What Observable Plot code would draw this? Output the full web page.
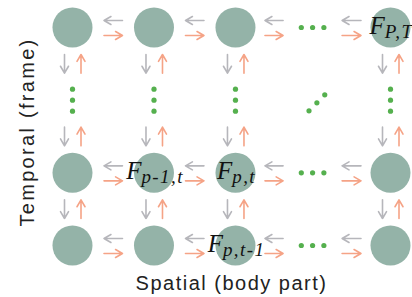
<!DOCTYPE html>
<html><head><meta charset="utf-8">
<script src="https://cdn.jsdelivr.net/npm/d3@7"></script>
<script src="https://cdn.jsdelivr.net/npm/@observablehq/plot@0.6"></script>
<style>html,body{margin:0;padding:0;background:#fff}svg{display:block}</style>
</head><body><div id="chart"></div>
<script>
// Grid layout: columns = body parts (spatial), rows = frames (temporal, top = T)
const columnNames = ["1", "2", "p", "…", "P"];
const columnPos = [0, 1.025, 2.05, 3.02, 4];
const rowNames = ["T", "…", "t", "t-1"];
const rowPos = [0, 1, 2, 3];
const nodeCols = [0, 1, 2, 4];
const nodeRows = [0, 2, 3];
const ellipsisCol = 3;
const ellipsisRow = 1;
const ellipsisSteps = [-1, 0, 1];
const labelCols = [4, 1, 2, 2];
const labelRows = [0, 2, 2, 3];
const labelMain = ["F", "F", "F", "F"];
const labelSub = ["P,T", "p-1,t", "p,t", "p,t-1"];
const xAxisLabel = "Spatial (body part)";
const yAxisLabel = "Temporal (frame)";

const circleFill = "#94b3a8", grayArrow = "#b6b6bb", orangeArrow = "#f5a386", dotGreen = "#55b04e";

const X = i => columnPos[i], Y = i => rowPos[i];
const nodes = nodeRows.flatMap(r => nodeCols.map(c => ({x: X(c), y: Y(r)})));
const hLinks = nodeRows.flatMap(r => columnNames.slice(0, -1).map((_, c) => ({a: c, b: c + 1, xa: X(c), xb: X(c + 1), y: Y(r)})));
const hNear = hLinks.filter(d => d.a !== ellipsisCol && d.b !== ellipsisCol);
const hFar = hLinks.filter(d => d.a === ellipsisCol || d.b === ellipsisCol);
const vLinks = nodeCols.flatMap(c => rowNames.slice(0, -1).map((_, r) => ({x: X(c), ya: Y(r), yb: Y(r + 1)})));
const vDots = nodeCols.flatMap(c => ellipsisSteps.map(k => ({x: X(c), y: Y(ellipsisRow) + k * 0.151})));
const hDots = nodeRows.flatMap(r => ellipsisSteps.map(k => ({x: X(ellipsisCol) + k * 0.142, y: Y(r)})));
const dDots = ellipsisSteps.map(k => ({x: X(ellipsisCol) + 0.054 + k * 0.099, y: Y(ellipsisRow) + 0.036 - k * 0.11}));
const labels = labelCols.map((c, i) => ({x: X(c), y: Y(labelRows[i]), text: labelMain[i] + "|" + labelSub[i]}));

const arrowOpts = {strokeWidth: 1.6, headLength: 7.5};
const plot = Plot.plot({
  width: 412, height: 297,
  marginLeft: 72, marginRight: 22, marginTop: 27, marginBottom: 52,
  axis: null,
  x: {type: "linear", domain: [0, 4], range: [72, 390]},
  y: {type: "linear", domain: [0, 3], range: [27, 245]},
  marks: [
    Plot.arrow(hNear, {x1: "xb", x2: "xa", y1: "y", y2: "y", stroke: grayArrow, dy: -7, insetStart: 31.5, insetEnd: 31.5, ...arrowOpts}),
    Plot.arrow(hNear, {x1: "xa", x2: "xb", y1: "y", y2: "y", stroke: orangeArrow, dy: 8, insetStart: 31.5, insetEnd: 31.5, ...arrowOpts}),
    Plot.arrow(hFar, {x1: "xb", x2: "xa", y1: "y", y2: "y", stroke: grayArrow, dy: -7, insetStart: 29.5, insetEnd: 29.5, ...arrowOpts}),
    Plot.arrow(hFar, {x1: "xa", x2: "xb", y1: "y", y2: "y", stroke: orangeArrow, dy: 8, insetStart: 29.5, insetEnd: 29.5, ...arrowOpts}),
    Plot.arrow(vLinks, {x1: "x", x2: "x", y1: "ya", y2: "yb", stroke: grayArrow, dx: -8, insetStart: 27, insetEnd: 27, ...arrowOpts}),
    Plot.arrow(vLinks, {x1: "x", x2: "x", y1: "yb", y2: "ya", stroke: orangeArrow, dx: 8.5, insetStart: 27, insetEnd: 27, ...arrowOpts}),
    Plot.dot(nodes, {x: "x", y: "y", r: 20, fill: circleFill}),
    Plot.dot([...vDots, ...hDots, ...dDots], {x: "x", y: "y", r: 2.6, fill: dotGreen}),
    Plot.text(labels, {x: "x", y: "y", text: "text", dx: 1, dy: 6, lineAnchor: "bottom", textAnchor: "middle",
      fontFamily: "Liberation Serif", fontStyle: "italic", fontSize: 25, fill: "#111"}),
    Plot.text([xAxisLabel], {text: d => d, frameAnchor: "bottom", lineAnchor: "bottom", textAnchor: "middle", dy: 44,
      fontFamily: "Liberation Sans", fontSize: 20, fill: "#222"}),
    Plot.text([yAxisLabel], {text: d => d, frameAnchor: "left", lineAnchor: "bottom", textAnchor: "middle", rotate: -90, dx: -39, dy: -4.5,
      fontFamily: "Liberation Sans", fontSize: 20, fill: "#222"})
  ]
});
// subscripts and letter spacing
plot.querySelectorAll("text").forEach(t => {
  const s = t.textContent;
  if (s.includes("|")) {
    const [m, sub] = s.split("|");
    t.textContent = "";
    const ns = "http://www.w3.org/2000/svg";
    const t1 = document.createElementNS(ns, "tspan"); t1.textContent = m; t.appendChild(t1);
    const t2 = document.createElementNS(ns, "tspan"); t2.textContent = sub;
    t2.setAttribute("font-size", "19"); t2.setAttribute("dy", "4");
    t2.style.letterSpacing = "1.4px"; t.appendChild(t2);
  } else if (s === xAxisLabel) {
    t.style.letterSpacing = "1.5px";
  } else if (s === yAxisLabel) {
    t.style.letterSpacing = "2.3px";
  }
});
document.getElementById("chart").appendChild(plot);
</script>
</body></html>
